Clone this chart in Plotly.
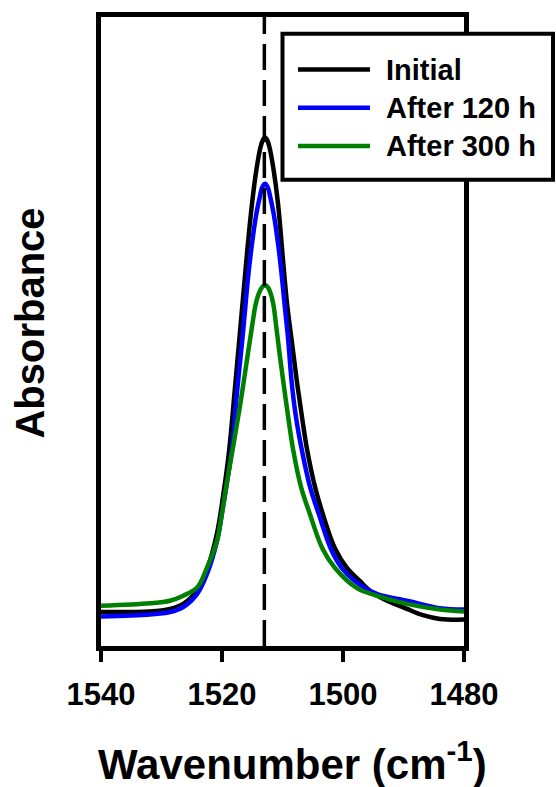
import plotly.graph_objects as go

# Absorbance spectra around the 1513 cm-1 band (arbitrary absorbance units)
wn_initial = [1540.0, 1531.9, 1528.6, 1526.4, 1524.1, 1522.5, 1520.83, 1519.83, 1518.84, 1517.85,
              1516.86, 1515.87, 1515.04, 1514.30, 1513.64, 1513.22, 1512.89, 1512.56, 1512.15,
              1511.49, 1510.74, 1509.92, 1509.26, 1508.43, 1507.60, 1506.78, 1505.95, 1504.63,
              1503.31, 1501.32, 1499.34, 1497.19, 1495.04, 1492.23, 1489.42, 1486.78, 1483.97,
              1480.0]
abs_initial = [0.054, 0.055, 0.059, 0.067, 0.088, 0.121, 0.179, 0.238, 0.309, 0.411,
               0.517, 0.624, 0.703, 0.758, 0.793, 0.805, 0.809, 0.805, 0.793,
               0.758, 0.703, 0.614, 0.545, 0.482, 0.419, 0.364, 0.313, 0.253,
               0.209, 0.155, 0.124, 0.103, 0.084, 0.070, 0.059, 0.049, 0.043,
               0.042]

wn_120h = [1540.0, 1531.9, 1528.6, 1526.4, 1524.1, 1522.5, 1520.83, 1519.83, 1518.43, 1517.52,
           1516.53, 1515.70, 1515.04, 1514.38, 1513.80, 1513.31, 1512.89, 1512.48, 1511.98,
           1511.40, 1510.74, 1510.17, 1509.59, 1509.09, 1508.48, 1507.77, 1506.83, 1505.45,
           1503.97, 1502.03, 1500.21, 1498.02, 1494.43, 1489.42, 1483.97, 1480.0]
abs_120h = [0.047, 0.050, 0.054, 0.062, 0.083, 0.114, 0.167, 0.222, 0.309, 0.403,
            0.498, 0.585, 0.640, 0.684, 0.712, 0.730, 0.735, 0.730, 0.712,
            0.684, 0.640, 0.593, 0.537, 0.490, 0.419, 0.364, 0.313, 0.253,
            0.209, 0.155, 0.124, 0.103, 0.083, 0.072, 0.060, 0.058]

wn_300h = [1540.0, 1531.9, 1528.6, 1526.4, 1524.1, 1522.5, 1520.83, 1520.0, 1519.17, 1518.18,
           1516.94, 1515.70, 1514.88, 1514.46, 1513.97, 1513.39, 1512.89, 1512.40, 1511.90,
           1511.49, 1511.16, 1510.50, 1509.85, 1509.22, 1508.26, 1506.94, 1505.45, 1503.40,
           1501.32, 1497.69, 1494.71, 1489.42, 1483.97, 1480.0]
abs_300h = [0.064, 0.068, 0.072, 0.080, 0.093, 0.124, 0.167, 0.211, 0.261, 0.316,
            0.387, 0.466, 0.518, 0.542, 0.559, 0.570, 0.574, 0.570, 0.559,
            0.542, 0.518, 0.466, 0.419, 0.375, 0.313, 0.253, 0.209, 0.155,
            0.124, 0.092, 0.081, 0.067, 0.058, 0.055]

series_names = ["Initial", "After 120 h", "After 300 h"]
series_colors = ["#000000", "#0000FF", "#008000"]
peak_position = 1513
x_ticks = [1540, 1520, 1500, 1480]

FONT = "Liberation Sans, Arial, sans-serif"
W, H = 556, 787
L, R, T, B = 101, 92, 12, 141
plot_w, plot_h = W - L - R, H - T - B


def px(xp):
    return (xp - L) / plot_w


def py(yp):
    return (T + plot_h - yp) / plot_h


fig = go.Figure()
for name, xs, ys, col in zip(series_names, [wn_initial, wn_120h, wn_300h],
                             [abs_initial, abs_120h, abs_300h], series_colors):
    fig.add_trace(go.Scatter(x=xs, y=ys, mode="lines", name=name, showlegend=False,
                             line=dict(color=col, width=4.5, shape="spline", smoothing=1.0)))

# dashed marker at the band centre
fig.add_shape(type="line", xref="x", yref="paper", x0=peak_position, x1=peak_position,
              y0=0, y1=1, line=dict(color="black", width=3.5, dash="26px,10px"))

# boxed legend
fig.add_shape(type="rect", xref="paper", yref="paper", x0=px(282.5), x1=px(553),
              y0=py(176), y1=py(29), line=dict(color="black", width=4), fillcolor="white")
for i, (name, col) in enumerate(zip(series_names, series_colors)):
    yy = py(65 + i * 38.5)
    fig.add_shape(type="line", xref="paper", yref="paper", x0=px(298), x1=px(370),
                  y0=yy, y1=yy, line=dict(color=col, width=4.5))
    fig.add_annotation(text=name, xref="paper", yref="paper", x=px(384), y=yy,
                       xanchor="left", yanchor="middle", showarrow=False,
                       font=dict(family=FONT, size=29, color="black", weight="bold"))

fig.add_annotation(text="Wavenumber (cm<sup>-1</sup>)", xref="paper", yref="paper",
                   x=px(292), y=py(762), xanchor="center", yanchor="middle", showarrow=False,
                   font=dict(family=FONT, size=42, color="black", weight="bold"))
fig.add_annotation(text="Absorbance", xref="paper", yref="paper", textangle=-90,
                   x=px(30), y=py(321), xanchor="center", yanchor="middle", showarrow=False,
                   font=dict(family=FONT, size=40, color="black", weight="bold"))

fig.update_layout(
    width=W, height=H, margin=dict(l=L, r=R, t=T, b=B),
    paper_bgcolor="white", plot_bgcolor="white",
    xaxis=dict(range=[1540, 1480], tickvals=x_ticks, ticktext=[str(v) for v in x_ticks],
               showline=True, mirror=True, linecolor="black", linewidth=4.5,
               ticks="outside", ticklen=11, tickwidth=3.5, tickcolor="black",
               ticklabelstandoff=6, showgrid=False, zeroline=False,
               tickfont=dict(family=FONT, size=31, color="black", weight="bold")),
    yaxis=dict(range=[0, 1], showline=True, mirror=True, linecolor="black", linewidth=4.5,
               ticks="", showticklabels=False, showgrid=False, zeroline=False),
)

fig.write_html("out.html")
